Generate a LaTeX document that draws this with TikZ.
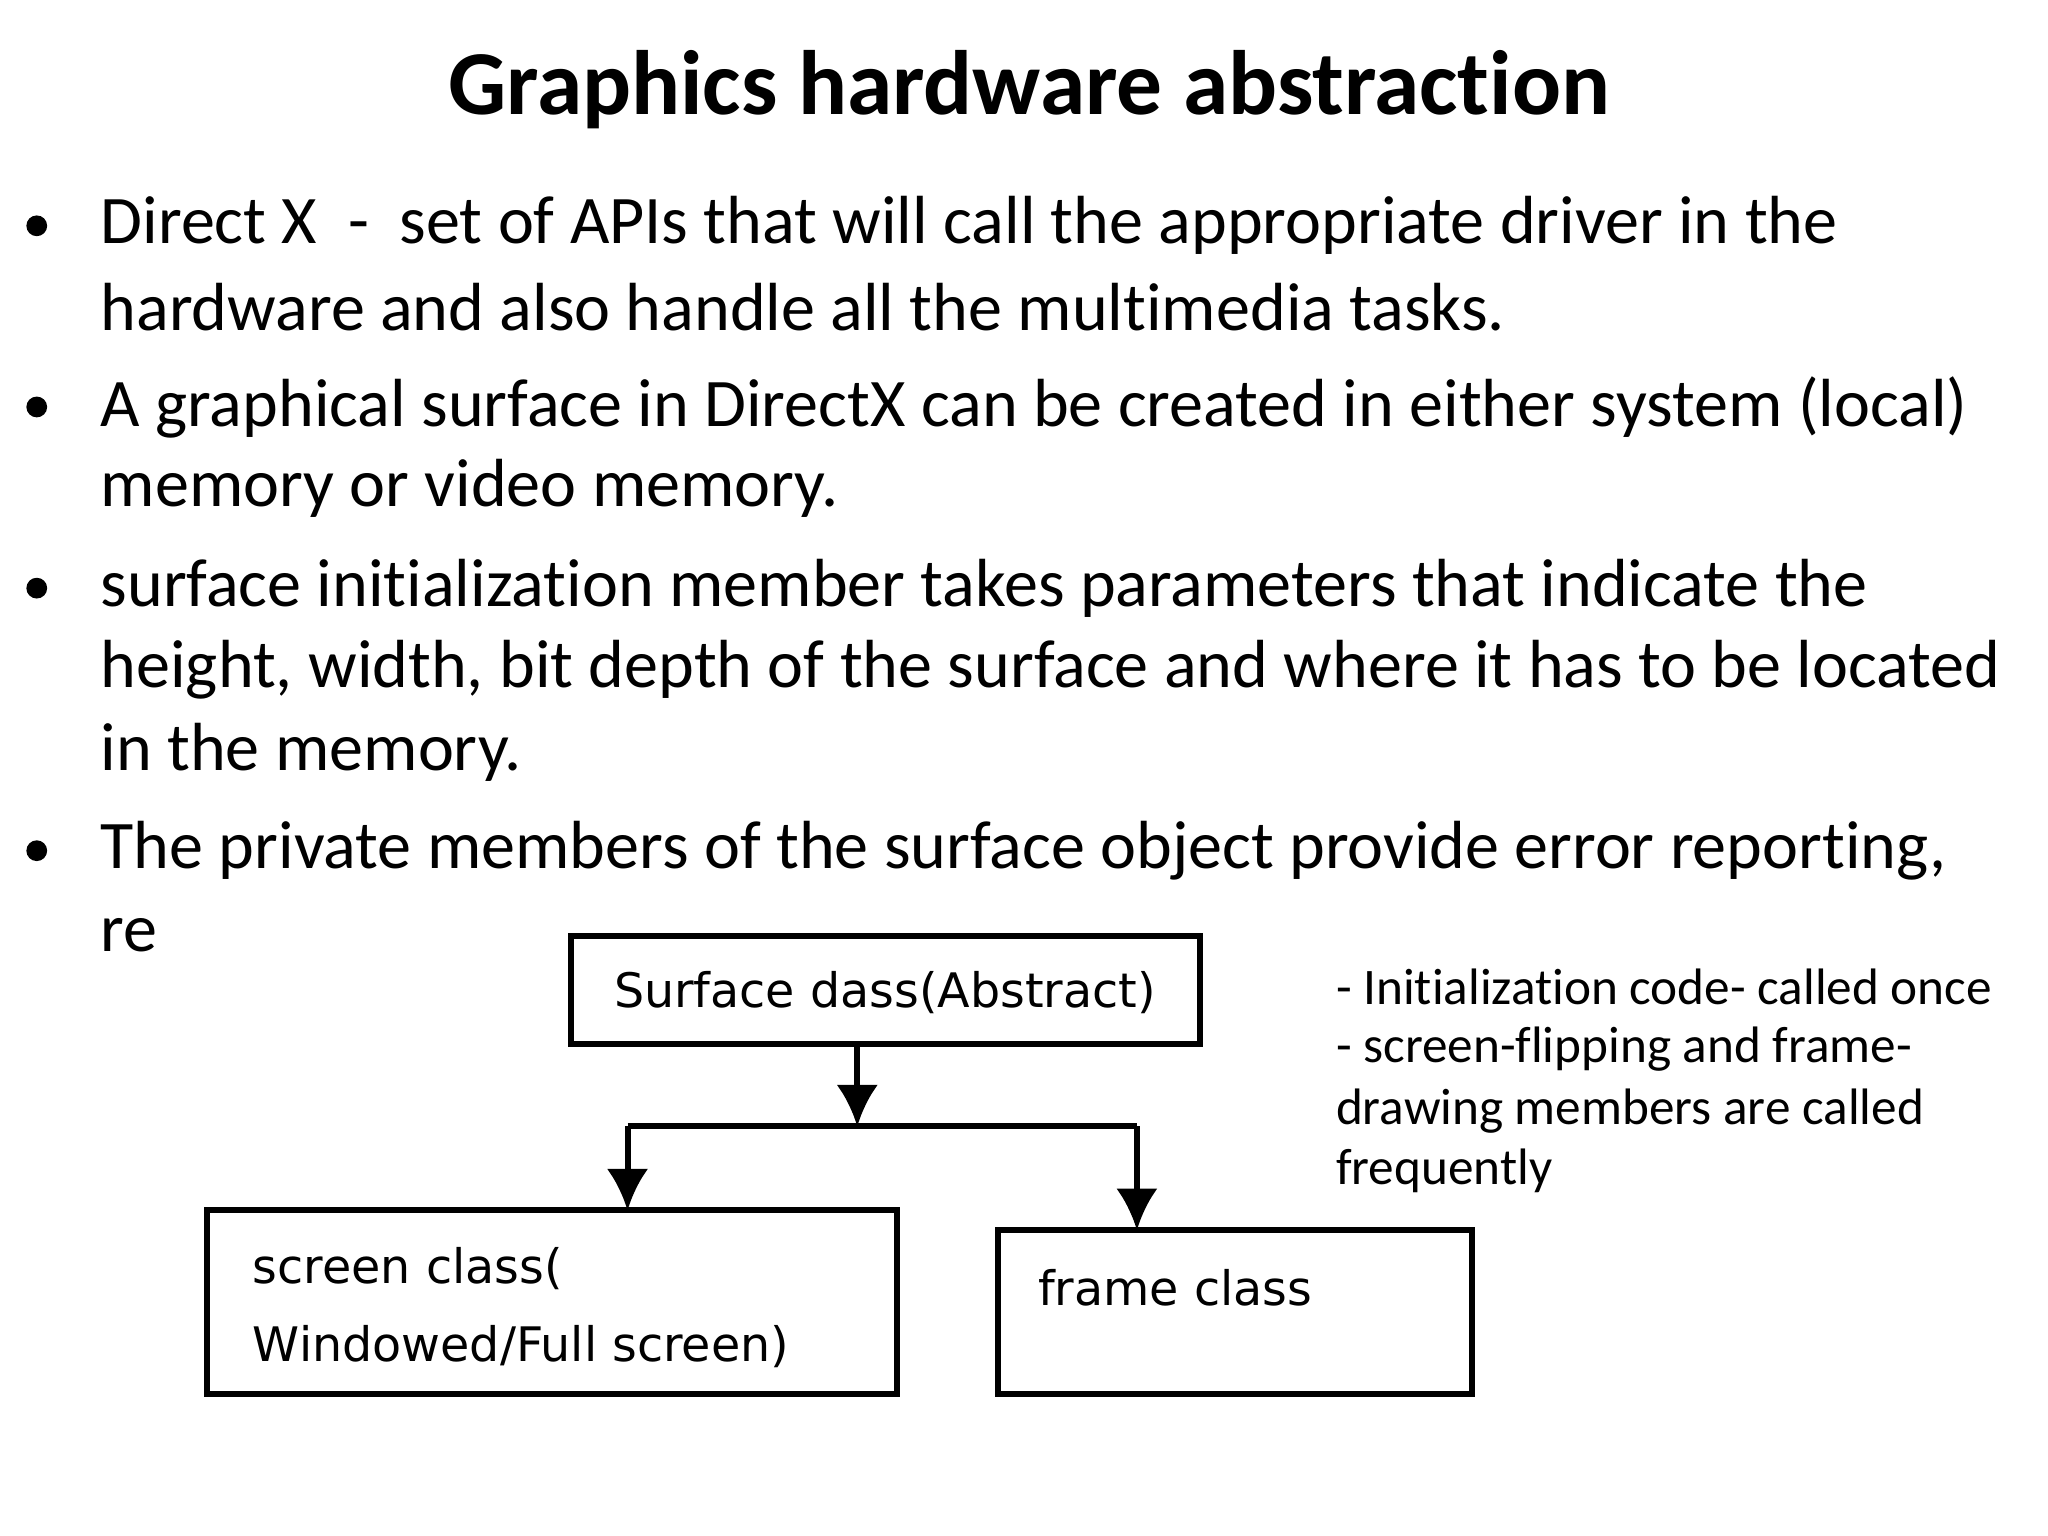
\documentclass[tikz,border=0pt]{standalone}
\usepackage{fontspec}
\usetikzlibrary{arrows.meta}
\setmainfont[Ligatures=NoCommon]{Carlito}
\newfontfamily\diag{DejaVu Sans}
\begin{document}
\begin{tikzpicture}[x=0.01cm,y=-0.01cm,
  body/.style={anchor=west,inner sep=0,font=\fontsize{14.75}{18}\selectfont},
  side/.style={anchor=west,inner sep=0,font=\fontsize{11.1}{13}\selectfont},
  dtext/.style={anchor=west,inner sep=0,font=\diag\fontsize{10.3}{13}\selectfont},
  cbox/.style={draw,line width=1.3pt},
  arr/.style={line width=1.3pt,-{Latex[length=9pt,width=9pt]}}]
\useasboundingbox (0,0) rectangle (1560,1170);
\node[font=\bfseries\fontsize{19.8}{24}\selectfont] (title) at (784,68) {Graphics hardware abstraction};
\foreach \y/\n in {172/b1,310/b2,448/b3,648/b4} \node[circle,fill,inner sep=0,minimum size=9pt*0.5] (\n) at (28,\y) {};
\node[body] (l1) at (76,172) {Direct X\ \ -\ \ set of APIs that will call the appropriate driver in the};
\node[body] (l2) at (76,234) {hardware and also handle all the multimedia tasks.};
\node[body] (l3) at (76,310) {A graphical surface in DirectX can be created in either system (local)};
\node[body] (l4) at (76,372) {memory or video memory.};
\node[body] (l5) at (76,448) {surface initialization member takes parameters that indicate the};
\node[body] (l6) at (76,510) {height, width, bit depth of the surface and where it has to be located};
\node[body] (l7) at (76,573) {in the memory.};
\node[body] (l8) at (76,648) {The private members of the surface object provide error reporting,};
\node[body] (l9) at (76,712) {re};
\node[side] (s1) at (1017,752) {- Initialization code- called once};
\node[side] (s2) at (1017,799) {- screen-flipping and frame-};
\node[side] (s3) at (1017,846) {drawing members are called};
\node[side] (s4) at (1017,892) {frequently};
\draw[cbox] (435,713) rectangle (914,795);
\draw[cbox] (158,922) rectangle (683,1062);
\draw[cbox] (760,937) rectangle (1121,1062);
\node[dtext] (sc) at (467,756) {Surface dass(Abstract)};
\node[dtext] (scr1) at (192,966) {screen class(};
\node[dtext] (scr2) at (192,1026) {Windowed/Full screen)};
\node[dtext] (fr) at (790,981) {frame class};
\coordinate (a) at (653,795);
\coordinate (j) at (653,858);
\coordinate (jl) at (478,858);
\coordinate (jr) at (866,858);
\coordinate (el) at (478,922);
\coordinate (er) at (866,937);
\draw[arr] (a) -- (j);
\draw[arr] (jl) -- (el);
\draw[arr] (jr) -- (er);
\draw[line width=1.3pt] (jl) -- (jr);
\end{tikzpicture}
\end{document}
